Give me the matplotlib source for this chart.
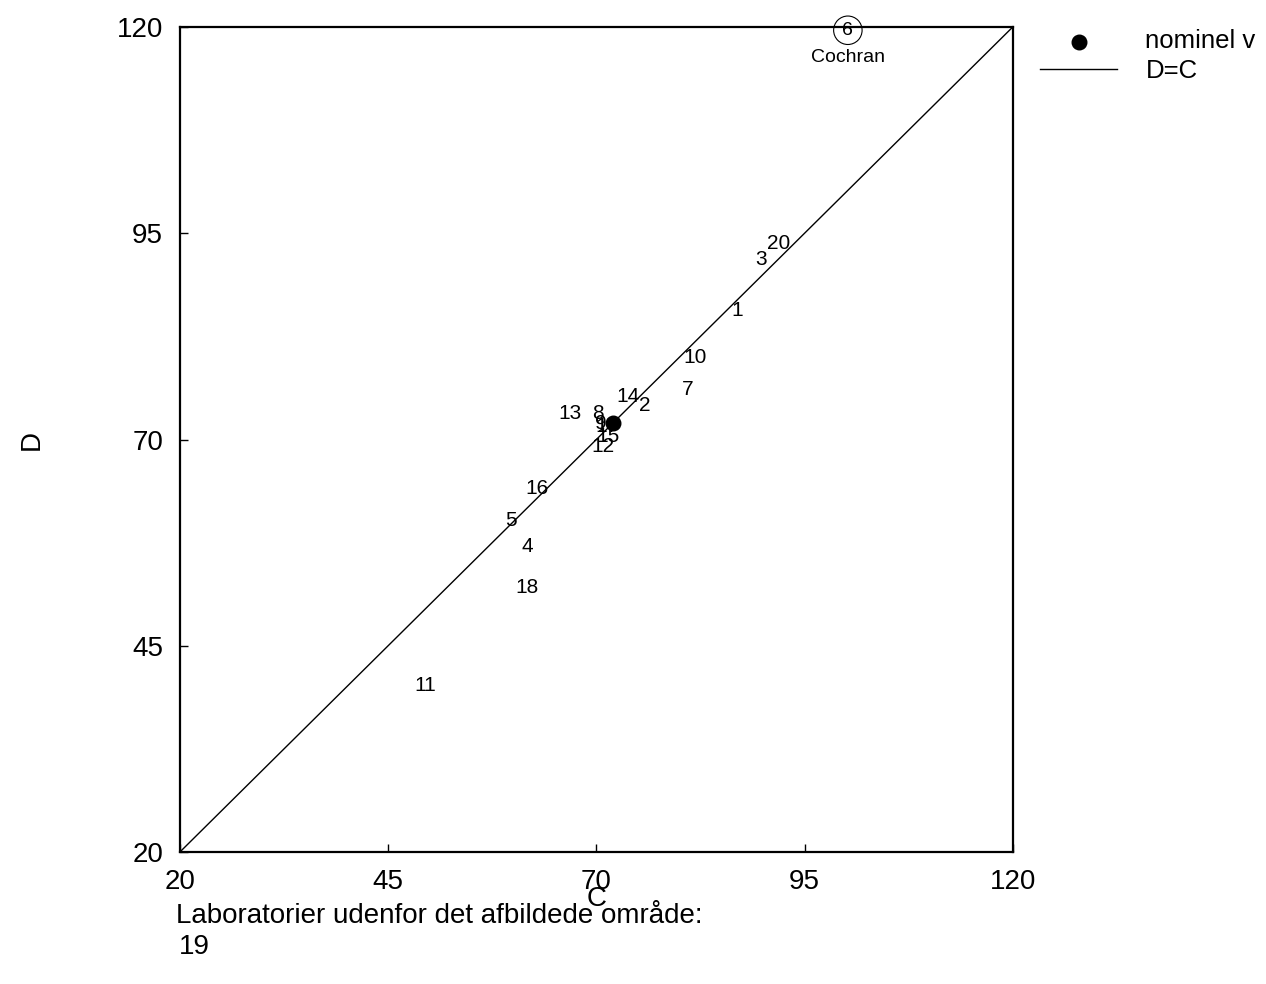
import numpy as np
import matplotlib
matplotlib.use("Agg")
import matplotlib.pyplot as plt

plt.rcParams['font.family'] = ['Liberation Sans', 'DejaVu Sans']

# lab results (C, D)
labs = ['1', '2', '3', '4', '5', '7', '8', '9', '10', '11', '12', '13',
        '14', '15', '16', '17', '18', '20']
c_vals = [86.9, 75.8, 89.8, 61.7, 59.7, 81.0, 70.2, 70.5, 81.8, 49.5, 70.8, 66.8,
          73.8, 71.4, 62.9, 71.3, 61.7, 91.9]
d_vals = [85.6, 74.1, 91.8, 57.1, 60.2, 76.1, 73.2, 71.9, 79.9, 40.2, 69.2, 73.2,
          75.2, 70.4, 64.1, 71.6, 52.1, 93.8]

# Cochran outlier
cochran_lab = '6'
cochran_c = 100.2
cochran_d = 119.6

# nominal value
nom_c = 72.0
nom_d = 72.0

ticks = [20, 45, 70, 95, 120]
outside = ['19']

fig = plt.figure(figsize=(12.66, 9.84), dpi=100)
ax = fig.add_axes([0.142, 0.134, 0.658, 0.8386])

# D=C line
ax.plot([20, 120], [20, 120], color='black', lw=1.0, label='D=C')
# nominal value
ax.scatter([nom_c], [nom_d], s=110, color='black', zorder=3, label='nominel v')

for lab, c, d in zip(labs, c_vals, d_vals):
    ax.text(c, d, lab, fontsize=15, ha='center', va='center')

ax.text(cochran_c, cochran_d, cochran_lab, fontsize=14, ha='center', va='center')
ax.scatter([cochran_c], [cochran_d], s=420, facecolors='none', edgecolors='black',
           linewidths=0.8, clip_on=False)
ax.text(cochran_c, cochran_d - 3.3, 'Cochran', fontsize=14, ha='center', va='center')

ax.set_xlim(20, 120)
ax.set_ylim(20, 120)
ax.set_xticks(ticks)
ax.set_yticks(ticks)
ax.tick_params(direction='in', length=6, width=1, labelsize=20)
ax.tick_params(axis='x', pad=12)
ax.tick_params(axis='y', pad=12)
for s in ax.spines.values():
    s.set_linewidth(1.6)

ax.set_xlabel('C', fontsize=20, labelpad=-6)
ax.set_ylabel('D', fontsize=20, labelpad=52)

handles, labels_ = ax.get_legend_handles_labels()
ax.legend(handles[::-1], labels_[::-1], loc='upper left', bbox_to_anchor=(1.005, 1.025),
          frameon=False, fontsize=18.5, handlelength=3.0, handletextpad=1.1,
          labelspacing=0.2, scatterpoints=1)

fig.text(0.139, 0.069, 'Laboratorier udenfor det afbildede område:', fontsize=20,
         ha='left', va='center')
fig.text(0.141, 0.038, '  '.join(outside), fontsize=20, ha='left', va='center')

fig.savefig('out.png', dpi=100)
